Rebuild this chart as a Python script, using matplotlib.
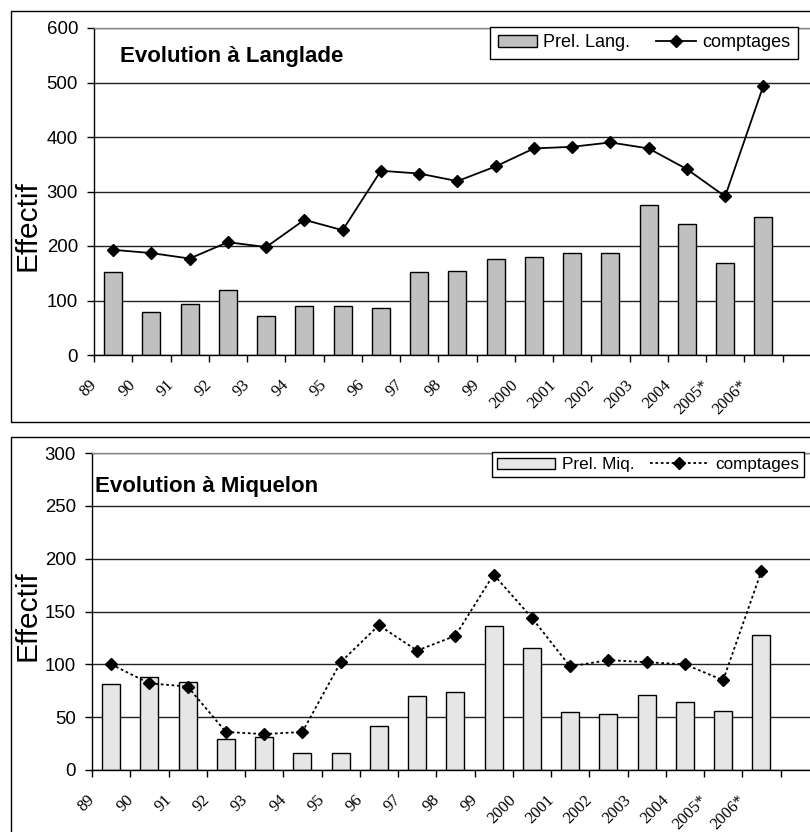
import matplotlib
matplotlib.use("Agg")
import matplotlib.pyplot as plt
from matplotlib.patches import Rectangle
import numpy as np

# ---------------- data ----------------
years = ["89", "90", "91", "92", "93", "94", "95", "96", "97", "98", "99",
         "2000", "2001", "2002", "2003", "2004", "2005*", "2006*"]
lang_prel = [153, 79, 93, 120, 71, 90, 90, 87, 153, 155, 177, 180, 188, 188, 276, 240, 169, 253]
lang_count = [193, 187, 177, 207, 198, 248, 229, 338, 333, 319, 346, 379, 382, 390, 379, 341, 291, 494]
miq_prel = [81, 88, 83, 29, 31, 16, 16, 42, 70, 74, 136, 115, 55, 53, 71, 64, 56, 128]
miq_count = [100, 82, 79, 36, 34, 36, 102, 137, 113, 127, 185, 144, 98, 104, 102, 100, 85, 188]

lang_ticks = [0, 100, 200, 300, 400, 500, 600]
miq_ticks = [0, 50, 100, 150, 200, 250, 300]

W, H = 810, 832
fig = plt.figure(figsize=(W / 100, H / 100), dpi=100)
fig.patch.set_facecolor("white")

SANS = "Liberation Sans"
SERIF = "Liberation Serif"


def fx(px):
    return px / W


def fy(py):
    return 1 - py / H


# panel borders
for top, bot in [(10.5, 422), (437, 900)]:
    fig.patches.append(Rectangle((fx(10.5), fy(bot)), fx(1000), fy(top) - fy(bot),
                                 transform=fig.transFigure, fill=False,
                                 edgecolor="black", lw=1.0, zorder=0))

NCAT = 20
STEP = 38.25


def make_panel(left, ytop, ybot, prel, count, ticks, barcolor, title, title_xy,
               ylabel_xy, leg_label, leg_xy, line_style, leg_size, leg_kw):
    ax = fig.add_axes([fx(left), fy(ybot), NCAT * STEP / W, (ybot - ytop) / H])
    x = np.arange(len(years))
    ax.set_xlim(-0.5, NCAT - 0.5)
    ax.set_ylim(ticks[0], ticks[-1])
    ax.set_axisbelow(True)
    ax.yaxis.grid(True, color="#222222", lw=1.0)
    ax.spines["right"].set_visible(False)
    ax.spines["top"].set_color("#888888")
    ax.spines["top"].set_linewidth(1.0)
    ax.spines["left"].set_linewidth(1.0)
    ax.spines["bottom"].set_linewidth(1.0)

    bars = ax.bar(x, prel, width=0.47, color=barcolor, edgecolor="black",
                  lw=1.0, label=leg_label, zorder=2)
    line, = ax.plot(x, count, color="black", lw=1.3, ls=line_style, marker="D",
                    markersize=6.5, label="comptages", zorder=3)

    ax.set_yticks(ticks)
    ax.set_yticklabels([str(t) for t in ticks], fontfamily=SANS, fontsize=13.4)
    ax.tick_params(axis="y", direction="out", length=5, width=1, pad=6.5)

    # minor ticks for category boundaries
    ax.xaxis.remove_overlapping_locs = False
    ax.set_xticks(np.arange(NCAT + 1) - 0.5, minor=True)
    ax.tick_params(axis="x", which="minor", direction="out", length=5, width=1)
    ax.set_xticks(x - 0.48)
    ax.set_xticklabels(years, fontfamily=SERIF, fontsize=12, rotation=45,
                       ha="right", va="center", rotation_mode="anchor")
    ax.tick_params(axis="x", which="major", length=0, pad=20)

    fig.text(fx(title_xy[0]), fy(title_xy[1]), title, fontfamily=SANS,
             fontweight="bold", fontsize=16, ha="left", va="baseline")
    fig.text(fx(ylabel_xy[0]), fy(ylabel_xy[1]), "Effectif", fontfamily=SANS,
             fontsize=21.5, rotation=90, ha="center", va="center")

    leg = ax.legend(handles=[bars, line], labels=[leg_label, "comptages"],
                    loc="upper left", bbox_to_anchor=(fx(leg_xy[0]), fy(leg_xy[1])),
                    bbox_transform=fig.transFigure, borderaxespad=0, ncol=2,
                    prop={"family": SANS, "size": leg_size}, fancybox=False,
                    framealpha=1, edgecolor="black", numpoints=1, **leg_kw)
    leg.get_frame().set_linewidth(1.0)
    return ax


make_panel(94, 28, 355, lang_prel, lang_count, lang_ticks, "#c0c0c0",
           "Evolution à Langlade", (120, 61.7), (27.5, 226), "Prel. Lang.",
           (490, 26.7), "-", 13,
           dict(handlelength=2.2, handleheight=0.62, handletextpad=0.33,
                columnspacing=1.45, borderpad=0.42))

make_panel(92, 453, 770, miq_prel, miq_count, miq_ticks, "#e6e6e6",
           "Evolution à Miquelon", (95, 492), (27, 616), "Prel. Miq.",
           (492, 452), (0, (1.5, 1.5)), 12.3,
           dict(handlelength=3.4, handleheight=0.6, handletextpad=0.4,
                columnspacing=0.9, borderpad=0.3))

fig.savefig("out.png", dpi=100, facecolor="white")
